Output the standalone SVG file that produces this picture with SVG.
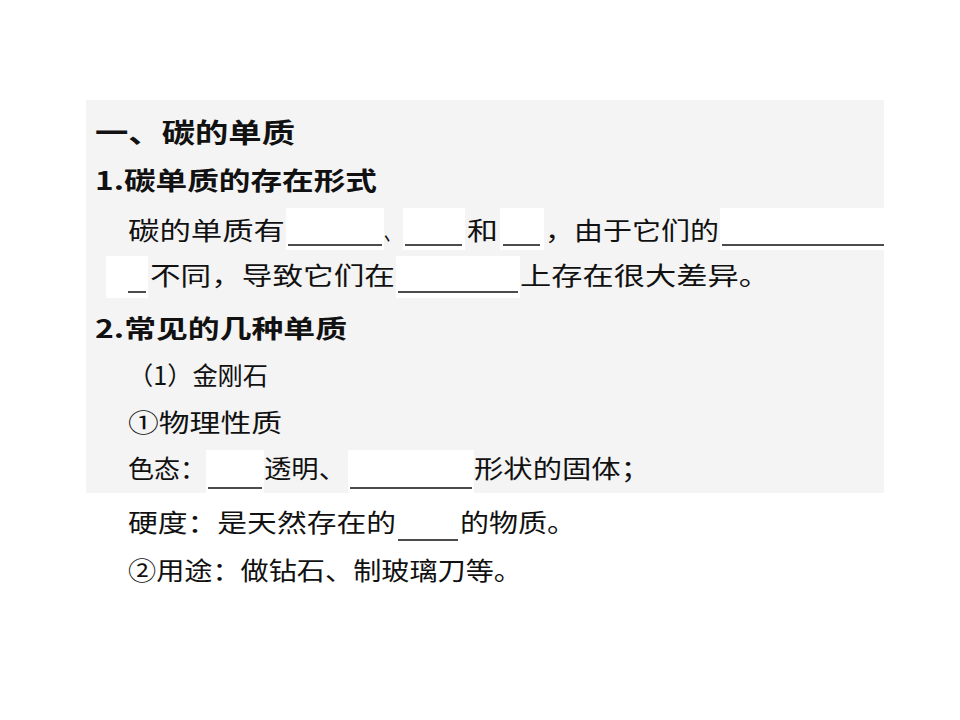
<svg xmlns="http://www.w3.org/2000/svg" width="960" height="720" viewBox="0 0 960 720">
<style>
text{font-family:"Noto Sans CJK SC","Noto Sans CJK JP",sans-serif;fill:#111;font-size:25px;lengthAdjust:spacingAndGlyphs}
.b{font-weight:bold}
.h{font-size:27px;font-weight:bold}
line{stroke:#111;stroke-width:1.5}
.w{fill:#fff}
</style>
<rect width="960" height="720" fill="#fff"/>
<rect x="86" y="100" width="798" height="393" fill="#f4f4f4"/>
<g id="blanks">
<rect class="w" x="286" y="208" width="98" height="42"/>
<rect class="w" x="403" y="208" width="62" height="42"/>
<rect class="w" x="500" y="208" width="44" height="42"/>
<rect class="w" x="720" y="208" width="164" height="42"/>
<rect class="w" x="106" y="256" width="42" height="42"/>
<rect class="w" x="396" y="256" width="124" height="42"/>
<rect class="w" x="206" y="450" width="58" height="43"/>
<rect class="w" x="348" y="450" width="126" height="43"/>
</g>
<g id="lines">
<line x1="288" y1="245" x2="382" y2="245"/>
<line x1="405" y1="245" x2="462" y2="245"/>
<line x1="503" y1="245" x2="540" y2="245"/>
<line x1="722" y1="245" x2="884" y2="245"/>
<line x1="128" y1="292" x2="146" y2="292"/>
<line x1="398" y1="292" x2="518" y2="292"/>
<line x1="208" y1="488" x2="262" y2="488"/>
<line x1="350" y1="488" x2="472" y2="488"/>
<line x1="398" y1="540" x2="458" y2="540"/>
</g>
<g id="text">
<text class="h" x="95" y="143" textLength="200" lengthAdjust="spacingAndGlyphs">一、碳的单质</text>
<text class="b" x="95" y="190" textLength="282" lengthAdjust="spacingAndGlyphs">1.碳单质的存在形式</text>
<text x="128" y="240" textLength="157" lengthAdjust="spacingAndGlyphs">碳的单质有</text>
<text x="384" y="240" textLength="16" lengthAdjust="spacingAndGlyphs">、</text>
<text x="467" y="240" textLength="31" lengthAdjust="spacingAndGlyphs">和</text>
<text x="545" y="240" textLength="174" lengthAdjust="spacingAndGlyphs">，由于它们的</text>
<text x="150" y="285" textLength="245" lengthAdjust="spacingAndGlyphs">不同，导致它们在</text>
<text x="520" y="285" textLength="250" lengthAdjust="spacingAndGlyphs">上存在很大差异。</text>
<text class="b" x="95" y="338" textLength="252" lengthAdjust="spacingAndGlyphs">2.常见的几种单质</text>
<text x="128" y="385" textLength="140" lengthAdjust="spacingAndGlyphs">（1）金刚石</text>
<text x="128" y="432" textLength="154" lengthAdjust="spacingAndGlyphs">①物理性质</text>
<text x="128" y="478" textLength="78" lengthAdjust="spacingAndGlyphs">色态：</text>
<text x="264" y="478" textLength="82" lengthAdjust="spacingAndGlyphs">透明、</text>
<text x="474" y="478" textLength="176" lengthAdjust="spacingAndGlyphs">形状的固体；</text>
<text x="128" y="532" textLength="268" lengthAdjust="spacingAndGlyphs">硬度：是天然存在的</text>
<text x="460" y="532" textLength="116" lengthAdjust="spacingAndGlyphs">的物质。</text>
<text x="128" y="580" textLength="394" lengthAdjust="spacingAndGlyphs">②用途：做钻石、制玻璃刀等。</text>
</g>
</svg>
